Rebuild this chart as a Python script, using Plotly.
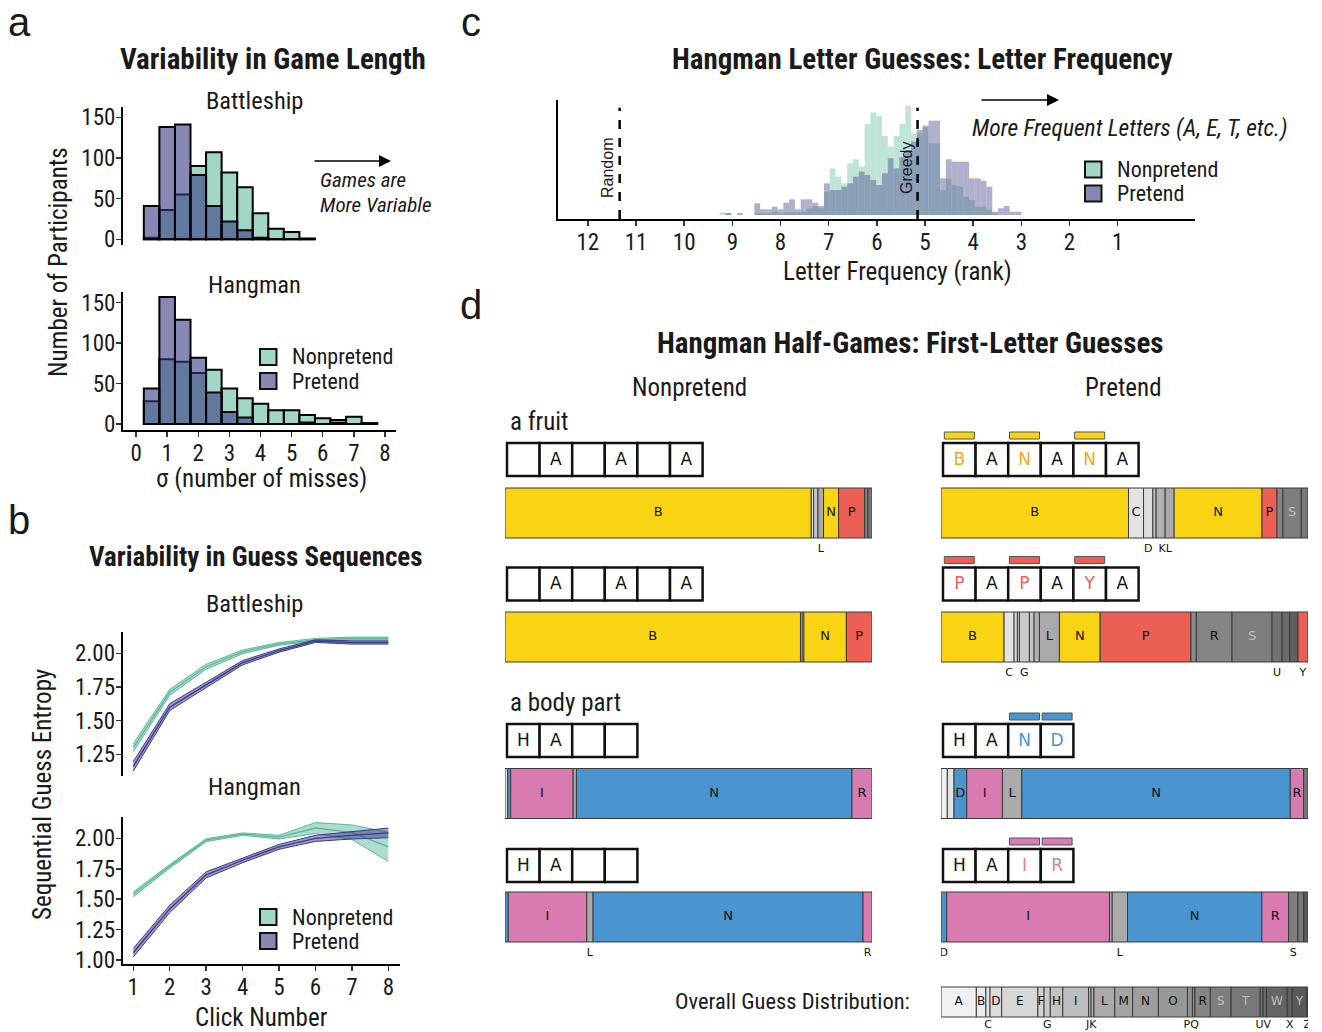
import plotly.graph_objects as go

W, H = 1322, 1032
def X(px): return px / W
def Y(py): return 1 - py / H

NARROW = "Roboto Condensed, Liberation Sans Narrow, Liberation Sans, sans-serif"
SANS = "DejaVu Sans, Verdana, sans-serif"
PL = "Liberation Sans, Arial, sans-serif"
INK = "#1a1a1a"

GREEN = (100, 187, 160)
PURPLE = (57, 57, 130)
def rgba(c, a): return f"rgba({c[0]},{c[1]},{c[2]},{a})"

# ---------------- panel a data : game length variability ----------------
miss_bins = [0.5, 1.0, 1.5, 2.0, 2.5, 3.0, 3.5, 4.0, 4.5, 5.0, 5.5, 6.0, 6.5, 7.0, 7.5]
bs_len_nonpretend = [2, 36, 55, 90, 107, 82, 64, 32, 13, 9, 1]
bs_len_pretend = [41, 138, 141, 79, 41, 22, 11, 2, 0, 0, 0]
hm_len_nonpretend = [28, 80, 77, 63, 67, 44, 32, 25, 17, 17, 11, 7, 5, 9, 1]
hm_len_pretend = [44, 157, 129, 82, 39, 15, 8, 0, 0, 0, 2, 0, 1.5, 0, 1]
miss_ticks = [0, 1, 2, 3, 4, 5, 6, 7, 8]
count_ticks = [0, 50, 100, 150]

# ---------------- panel b data : guess sequence entropy ----------------
clicks = [1, 2, 3, 4, 5, 6, 7, 8]
bs_ent_np_mean = [1.30, 1.71, 1.90, 2.01, 2.07, 2.10, 2.11, 2.11]
bs_ent_np_se = [0.03, 0.022, 0.018, 0.014, 0.01, 0.01, 0.01, 0.01]
bs_ent_p_mean = [1.16, 1.60, 1.765, 1.93, 2.02, 2.09, 2.08, 2.08]
bs_ent_p_se = [0.035, 0.025, 0.02, 0.016, 0.012, 0.01, 0.012, 0.012]
hm_ent_np_mean = [1.54, 1.77, 1.985, 2.035, 2.01, 2.085, 2.05, 1.93]
hm_ent_np_se = [0.02, 0.015, 0.012, 0.01, 0.015, 0.045, 0.06, 0.12]
hm_ent_p_mean = [1.06, 1.42, 1.70, 1.82, 1.93, 2.00, 2.025, 2.045]
hm_ent_p_se = [0.035, 0.03, 0.025, 0.02, 0.02, 0.025, 0.03, 0.04]
bs_ent_ticks = [1.25, 1.50, 1.75, 2.00]
hm_ent_ticks = [1.00, 1.25, 1.50, 1.75, 2.00]

# ---------------- panel c data : letter frequency rank histogram ----------------
rank_bins = [9.207, 9.087, 8.966, 8.846, 8.725, 8.605, 8.484, 8.364, 8.243, 8.123,
             8.002, 7.882, 7.761, 7.641, 7.520, 7.400, 7.279, 7.159, 7.038, 6.918,
             6.797, 6.677, 6.556, 6.436, 6.315, 6.195, 6.074, 5.954, 5.833, 5.713,
             5.592, 5.472, 5.351, 5.231, 5.110, 4.990, 4.869, 4.749, 4.628, 4.508,
             4.387, 4.267, 4.146, 4.026, 3.905, 3.785, 3.664, 3.544, 3.423, 3.303,
             3.182, 3.062, 2.941]
rank_nonpretend = [8, 6, 0, 0, 0, 0, 5, 5, 5, 10, 5, 8, 8, 8, 10, 20, 27, 20, 70, 140,
                   115, 95, 155, 167, 145, 273, 308, 297, 237, 205, 237, 273, 328, 245, 245, 270,
                   215, 215, 75, 110, 90, 85, 55, 45, 25, 25, 15, 5, 0, 0, 0, 0, 0]
rank_pretend = [0, 6, 0, 6, 0, 0, 35, 17, 17, 25, 17, 37, 47, 17, 47, 47, 37, 27, 95, 75,
                75, 85, 95, 115, 130, 120, 105, 90, 125, 170, 140, 173, 195, 220, 255, 265,
                283, 283, 110, 167, 160, 160, 160, 110, 110, 103, 85, 10, 20, 27, 10, 10, 0]
rank_ticks = [12, 11, 10, 9, 8, 7, 6, 5, 4, 3, 2, 1]
random_rank = 11.34
greedy_rank = 5.155

# ---------------- panel d data : first-letter guesses ----------------
# letters (alphabetical), measured segment widths, label mode (i=inside, b=below, .=none)
np_banana_letters = "BDHLNPST"
np_banana_widths = [306, 2.3, 4.4, 5.6, 15, 26, 3.4, 4]
np_banana_labels = "i..bii.."
np_papaya_letters = "BCDNP"
np_papaya_widths = [295, 1.7, 1.7, 42.4, 25.6]
np_papaya_labels = "i..ii"
p_banana_letters = "BCDIKLNPRST"
p_banana_widths = [187.3, 15, 9.3, 3.3, 9, 9, 87.7, 15, 6, 18.3, 6.7]
p_banana_labels = "iib.bbii.i."
p_papaya_letters = "BCDEGHKLNPQRSUVXY"
p_papaya_widths = [63, 10, 3.3, 2, 10, 4.7, 5.3, 20, 40.7, 90.7, 5.3, 35.7, 40, 10, 7.6, 8.3, 10]
p_papaya_labels = "ib..b..iii.iib..b"
np_hand_letters = "CDILNR"
np_hand_widths = [2.7, 3, 62.3, 3.3, 275, 20]
np_hand_labels = "..i.ii"
np_hair_letters = "DILNR"
np_hair_widths = [3.3, 78.3, 6.3, 269.3, 9]
np_hair_labels = ".ibib"
p_hand_letters = "ACDILNRT"
p_hand_widths = [6.3, 6.7, 12.7, 35.7, 19.3, 268.3, 13.3, 4.4]
p_hand_labels = "..iiiii."
p_hair_letters = "DIKLNRSTY"
p_hair_widths = [5.7, 162.7, 2.7, 15.3, 134.3, 26.7, 9.3, 5.7, 4.4]
p_hair_labels = "bi.biib.."
overall_letters = "ABCDEFGHIJKLMNOPQRSTUVWXYZ"
overall_widths = [85, 23, 10, 28, 87, 15, 15, 30, 62, 6, 7, 50, 43, 62, 70, 12, 6, 37, 50, 70, 7, 8, 50, 12, 35, 3]
overall_labels = "iibiiibiibbiiiibbiiibbibib"

np_banana_word = " A A A"
p_banana_word = "BANANA"
p_banana_marks = [0, 2, 4]
np_papaya_word = " A A A"
p_papaya_word = "PAPAYA"
p_papaya_marks = [0, 2, 4]
np_hand_word = "HA  "
p_hand_word = "HAND"
p_hand_marks = [2, 3]
np_hair_word = "HA  "
p_hair_word = "HAIR"
p_hair_marks = [2, 3]

YELLOW, RED, BLUE, PINK = "#f8d415", "#ec5f55", "#4a95cf", "#d77bb1"
fruit_colors = {"B": YELLOW, "N": YELLOW, "P": RED, "Y": RED}
body_colors = {"N": BLUE, "D": BLUE, "I": PINK, "R": PINK}
fruit_text_colors = {"B": "#f3a81e", "N": "#f3a81e", "P": RED, "Y": RED}
body_text_colors = {"N": BLUE, "D": BLUE, "I": PINK, "R": PINK}

def letter_grey(L):
    k = ord(L) - 65
    v = int(round(240 - k * (240 - 82) / 25))
    return f"rgb({v},{v},{v})"
def label_color(L):
    return "#bdbdbd" if ord(L) - 65 >= 18 else "#111111"

fig = go.Figure()

# ================= panel a =================
def add_hist(x, y_np, y_p, xa, ya):
    fig.add_trace(go.Bar(x=x[:len(y_np)], y=y_np, width=0.5, xaxis=xa, yaxis=ya,
                         marker=dict(color=rgba(GREEN, 0.6), line=dict(color="black", width=2)),
                         hoverinfo="skip", showlegend=False))
    fig.add_trace(go.Bar(x=x[:len(y_p)], y=y_p, width=0.5, xaxis=xa, yaxis=ya,
                         marker=dict(color=rgba(PURPLE, 0.6), line=dict(color="black", width=2)),
                         hoverinfo="skip", showlegend=False))
add_hist(miss_bins, bs_len_nonpretend, bs_len_pretend, "x", "y")
add_hist(miss_bins, hm_len_nonpretend, hm_len_pretend, "x2", "y2")

# ================= panel b =================
def add_ribbon(xv, m, s, col, xa, ya):
    lo = [a - b for a, b in zip(m, s)]
    hi = [a + b for a, b in zip(m, s)]
    fig.add_trace(go.Scatter(x=xv, y=lo, mode="lines", line=dict(color=rgba(col, 1), width=1),
                             xaxis=xa, yaxis=ya, hoverinfo="skip", showlegend=False))
    fig.add_trace(go.Scatter(x=xv, y=hi, mode="lines", line=dict(color=rgba(col, 1), width=1),
                             fill="tonexty", fillcolor=rgba(col, 0.5),
                             xaxis=xa, yaxis=ya, hoverinfo="skip", showlegend=False))
    fig.add_trace(go.Scatter(x=xv, y=m, mode="lines", line=dict(color=rgba(col, 1), width=1.3),
                             xaxis=xa, yaxis=ya, hoverinfo="skip", showlegend=False))
LG = (92, 184, 156)
LP = (58, 58, 140)
add_ribbon(clicks, bs_ent_np_mean, bs_ent_np_se, LG, "x3", "y3")
add_ribbon(clicks, bs_ent_p_mean, bs_ent_p_se, LP, "x3", "y3")
add_ribbon(clicks, hm_ent_np_mean, hm_ent_np_se, LG, "x4", "y4")
add_ribbon(clicks, hm_ent_p_mean, hm_ent_p_se, LP, "x4", "y4")

# ================= panel c =================
fig.add_trace(go.Bar(x=rank_bins, y=rank_nonpretend, width=0.1205, xaxis="x5", yaxis="y5",
                     marker=dict(color=rgba(GREEN, 0.4), line=dict(width=0)),
                     hoverinfo="skip", showlegend=False))
fig.add_trace(go.Bar(x=rank_bins, y=rank_pretend, width=0.1205, xaxis="x5", yaxis="y5",
                     marker=dict(color=rgba(PURPLE, 0.4), line=dict(width=0)),
                     hoverinfo="skip", showlegend=False))
for r in (random_rank, greedy_rank):
    fig.add_trace(go.Scatter(x=[r, r], y=[-12, 322], mode="lines", xaxis="x5", yaxis="y5",
                             line=dict(color="black", width=2.5, dash="dash"),
                             hoverinfo="skip", showlegend=False))

# ================= panel d =================
NP_L, NP_R = 505, 872
P_L, P_R = 941, 1308
PXPCT = 100.0 / (NP_R - NP_L)
CELL = 32.6 * PXPCT
CELL0 = 2.0 * PXPCT

def add_bar(letters, widths, labels, cmap, yc, xa, height=50, below_dy=11, fs=13):
    tot = sum(widths)
    pct = [w / tot * 100 for w in widths]
    bases = []
    acc = 0
    for p in pct:
        bases.append(acc)
        acc += p
    cols = [cmap.get(L, letter_grey(L)) for L in letters]
    fig.add_trace(go.Bar(orientation="h", x=pct, base=bases, y=[yc] * len(pct), width=height,
                         marker=dict(color=cols, line=dict(color="#3a3a3a", width=1)),
                         xaxis=xa, yaxis="y6", hoverinfo="skip", showlegend=False))
    ins_x, ins_t, ins_c = [], [], []
    for L, b, p, m in zip(letters, bases, pct, labels):
        if m == "i":
            ins_x.append(b + p / 2); ins_t.append(L)
            ins_c.append(label_color(L) if L not in cmap else "#111111")
    fig.add_trace(go.Scatter(x=ins_x, y=[yc] * len(ins_x), text=ins_t, mode="text",
                             textfont=dict(family=SANS, size=fs, color=ins_c),
                             xaxis=xa, yaxis="y6", hoverinfo="skip", showlegend=False))
    # below labels; two adjacent narrow ones are written together
    groups = []
    i = 0
    n = len(letters)
    while i < n:
        if labels[i] == "b":
            j = i
            if i + 1 < n and labels[i + 1] == "b" and widths[i] < 15 and widths[i + 1] < 15:
                j = i + 1
            groups.append(("".join(letters[i:j + 1]), bases[i], bases[j] + pct[j]))
            i = j + 1
        else:
            i += 1
    fig.add_trace(go.Scatter(x=[(g[1] + g[2]) / 2 for g in groups], y=[yc + height / 2 + below_dy] * len(groups),
                             text=[g[0] for g in groups], mode="text",
                             textfont=dict(family=SANS, size=11, color="#111111"),
                             xaxis=xa, yaxis="y6", hoverinfo="skip", showlegend=False))

def add_word(word, tcolors, yc, xa, marks=None, mark_col=None):
    n = len(word)
    bases = [CELL0 + k * CELL for k in range(n)]
    fig.add_trace(go.Bar(orientation="h", x=[CELL] * n, base=bases, y=[yc] * n, width=33,
                         marker=dict(color="white", line=dict(color="#111111", width=2.5)),
                         xaxis=xa, yaxis="y6", hoverinfo="skip", showlegend=False))
    fig.add_trace(go.Scatter(x=[b + CELL / 2 for b in bases], y=[yc + 1] * n, text=list(word), mode="text",
                             textfont=dict(family=SANS, size=17,
                                           color=[tcolors.get(c, "#111111") for c in word]),
                             xaxis=xa, yaxis="y6", hoverinfo="skip", showlegend=False))
    if marks:
        hw = 30 * PXPCT
        fig.add_trace(go.Bar(orientation="h", x=[hw] * len(marks),
                             base=[bases[k] + (CELL - hw) / 2 for k in marks],
                             y=[yc - 24] * len(marks), width=7,
                             marker=dict(color=mark_col, line=dict(color="#555555", width=1)),
                             xaxis=xa, yaxis="y6", hoverinfo="skip", showlegend=False))

rows = [459.5, 584, 740.5, 865.5]
bars = [513, 637, 793.5, 917]

add_word(np_banana_word, {}, rows[0], "x6")
add_bar(np_banana_letters, np_banana_widths, np_banana_labels, fruit_colors, bars[0], "x6")
add_word(p_banana_word, fruit_text_colors, rows[0], "x7", p_banana_marks, YELLOW)
add_bar(p_banana_letters, p_banana_widths, p_banana_labels, fruit_colors, bars[0], "x7")

add_word(np_papaya_word, {}, rows[1], "x6")
add_bar(np_papaya_letters, np_papaya_widths, np_papaya_labels, fruit_colors, bars[1], "x6")
add_word(p_papaya_word, fruit_text_colors, rows[1], "x7", p_papaya_marks, RED)
add_bar(p_papaya_letters, p_papaya_widths, p_papaya_labels, fruit_colors, bars[1], "x7")

add_word(np_hand_word, {}, rows[2], "x6")
add_bar(np_hand_letters, np_hand_widths, np_hand_labels, body_colors, bars[2], "x6")
add_word(p_hand_word, body_text_colors, rows[2], "x7", p_hand_marks, BLUE)
add_bar(p_hand_letters, p_hand_widths, p_hand_labels, body_colors, bars[2], "x7")

add_word(np_hair_word, {}, rows[3], "x6")
add_bar(np_hair_letters, np_hair_widths, np_hair_labels, body_colors, bars[3], "x6")
add_word(p_hair_word, {"I": PINK, "R": PINK}, rows[3], "x7", p_hair_marks, PINK)
add_bar(p_hair_letters, p_hair_widths, p_hair_labels, body_colors, bars[3], "x7")

add_bar(overall_letters, overall_widths, overall_labels, {}, 1002, "x7", height=30, below_dy=8, fs=12)

# ================= axes =================
tickfont = dict(family=NARROW, size=23, color=INK)
def yax(top, bot, rng, tv, fmt=None, show=True):
    d = dict(domain=[Y(bot), Y(top)], range=rng, showline=True, linecolor="black", linewidth=2,
             ticks="outside" if show else "", ticklen=5, tickwidth=1.5, tickcolor="#333333",
             showgrid=False, zeroline=False, tickfont=tickfont, fixedrange=True, automargin=False)
    if tv is not None:
        d["tickvals"] = tv
        if fmt:
            d["ticktext"] = [fmt.format(v) for v in tv]
    else:
        d["showticklabels"] = False
    return d
def xax(l, r, rng, tv=None, anchor=None, visible=True):
    d = dict(domain=[X(l), X(r)], range=rng, showgrid=False, zeroline=False, fixedrange=True,
             tickfont=tickfont, anchor=anchor, automargin=False)
    if visible and tv is not None:
        d.update(showline=True, linecolor="black", linewidth=2, ticks="outside", ticklen=5,
                 tickwidth=1.5, tickcolor="#333333", tickvals=tv)
    else:
        d.update(visible=False)
    return d

layout = dict(
    width=W, height=H, autosize=False, margin=dict(l=0, r=0, t=0, b=0, pad=0, autoexpand=False),
    paper_bgcolor="white", plot_bgcolor="rgba(0,0,0,0)", barmode="overlay",
    showlegend=False, hovermode=False,
    xaxis=xax(123, 396, [-0.42, 8.355], None, "y", visible=False),
    yaxis=yax(106.7, 245, [-7, 163], count_ticks),
    xaxis2=xax(123, 396, [-0.42, 8.355], miss_ticks, "y2"),
    yaxis2=yax(291.7, 430, [-7.4, 163.6], count_ticks),
    xaxis3=xax(122.7, 400, [0.71, 8.32], None, "y3", visible=False),
    yaxis3=yax(631.7, 776, [1.089, 2.16], bs_ent_ticks, "{:.2f}"),
    xaxis4=xax(122.7, 400, [0.71, 8.32], clicks, "y4"),
    yaxis4=yax(816.7, 964.3, [0.965, 2.178], hm_ent_ticks, "{:.2f}"),
    xaxis5=xax(558, 1195, [12.62, -0.605], rank_ticks, "y5"),
    yaxis5=yax(100, 219, [-12, 345], None, show=False),
    xaxis6=dict(domain=[X(NP_L), X(NP_R)], range=[0, 100], visible=False, anchor="y6",
                fixedrange=True, automargin=False),
    xaxis7=dict(domain=[X(P_L), X(P_R)], range=[0, 100], visible=False, anchor="y6",
                fixedrange=True, automargin=False),
    yaxis6=dict(domain=[0, 1], range=[H, 0], visible=False, anchor="x6",
                fixedrange=True, automargin=False),
)
for k in ("yaxis", "yaxis2", "yaxis3", "yaxis4", "yaxis5"):
    layout[k]["anchor"] = "x" + k[5:]
fig.update_layout(**layout)
for k in ("yaxis", "yaxis2", "yaxis3", "yaxis4", "xaxis2", "xaxis4", "xaxis5"):
    try:
        fig.layout[k].ticklabelstandoff = -4
    except Exception:
        pass

# ================= text =================
ann = []
def text(px, py, s, size=24, bold=False, italic=False, xanchor="center", family=NARROW, angle=0, color=INK):
    if bold:
        s = f"<b>{s}</b>"
    if italic:
        s = f"<i>{s}</i>"
    ann.append(dict(x=X(px), y=Y(py), xref="paper", yref="paper", text=s, showarrow=False,
                    xanchor=xanchor, yanchor="middle", textangle=angle,
                    font=dict(family=family, size=size, color=color)))

text(19, 22, "a", 40, family=PL)
text(19, 520, "b", 40, family=PL)
text(471, 22, "c", 40, family=PL)
text(471, 305, "d", 40, family=PL)

text(273, 59, "Variability in Game Length", 29, bold=True)
text(254, 101, "Battleship", 24.5)
text(254, 284, "Hangman", 24.5)
text(58, 262, "Number of Participants", 25, angle=-90)
text(261, 479, "σ (number of misses)", 25)
text(318, 180, "Games are", 21, italic=True, xanchor="left")
text(318, 205, "More Variable", 21, italic=True, xanchor="left")

text(256, 557, "Variability in Guess Sequences", 27, bold=True)
text(254, 603, "Battleship", 24.5)
text(254, 786, "Hangman", 24.5)
text(42, 795, "Sequential Guess Entropy", 25, angle=-90)
text(261, 1017, "Click Number", 25)

text(922, 59, "Hangman Letter Guesses: Letter Frequency", 29, bold=True)
text(897, 271, "Letter Frequency (rank)", 25)
text(970, 128, "More Frequent Letters (A, E, T, etc.)", 23.5, italic=True, xanchor="left")
text(607, 168, "Random", 16, angle=-90, family=PL)
text(906, 168, "Greedy", 16, angle=-90, family=PL)

text(910, 343, "Hangman Half-Games: First-Letter Guesses", 29, bold=True)
text(689, 387, "Nonpretend", 25)
text(1123, 387, "Pretend", 25)
text(508, 421, "a fruit", 25, xanchor="left")
text(508, 702, "a body part", 25, xanchor="left")
text(912, 1001, "Overall Guess Distribution:", 22.5, xanchor="right")

# legends
shapes = []
def legend(px, py1, py2):
    for py, c in ((py1, GREEN), (py2, PURPLE)):
        shapes.append(dict(type="rect", xref="paper", yref="paper",
                           x0=X(px), x1=X(px + 16.5), y0=Y(py + 8), y1=Y(py - 8),
                           fillcolor=rgba(c, 0.6), line=dict(color="#111111", width=2)))
    text(px + 30, py1, "Nonpretend", 22, xanchor="left")
    text(px + 30, py2, "Pretend", 22, xanchor="left")
legend(260, 357, 381)
legend(260, 917, 941)
legend(1085, 169.5, 193.5)

# arrows
for x0, x1, yy in ((313, 391, 161), (980, 1059, 100)):
    ann.append(dict(x=X(x1), y=Y(yy), xref="paper", yref="paper", ax=-(x1 - x0), ay=0,
                    axref="pixel", ayref="pixel", text="", showarrow=True,
                    arrowhead=2, arrowsize=1.6, arrowwidth=1.5, arrowcolor="black"))

fig.update_layout(annotations=ann, shapes=shapes)

fig.write_html("out.html", config={"displayModeBar": False, "staticPlot": True},
               post_script=("document.documentElement.style.margin='0';"
                            "document.body.style.margin='0';"))
